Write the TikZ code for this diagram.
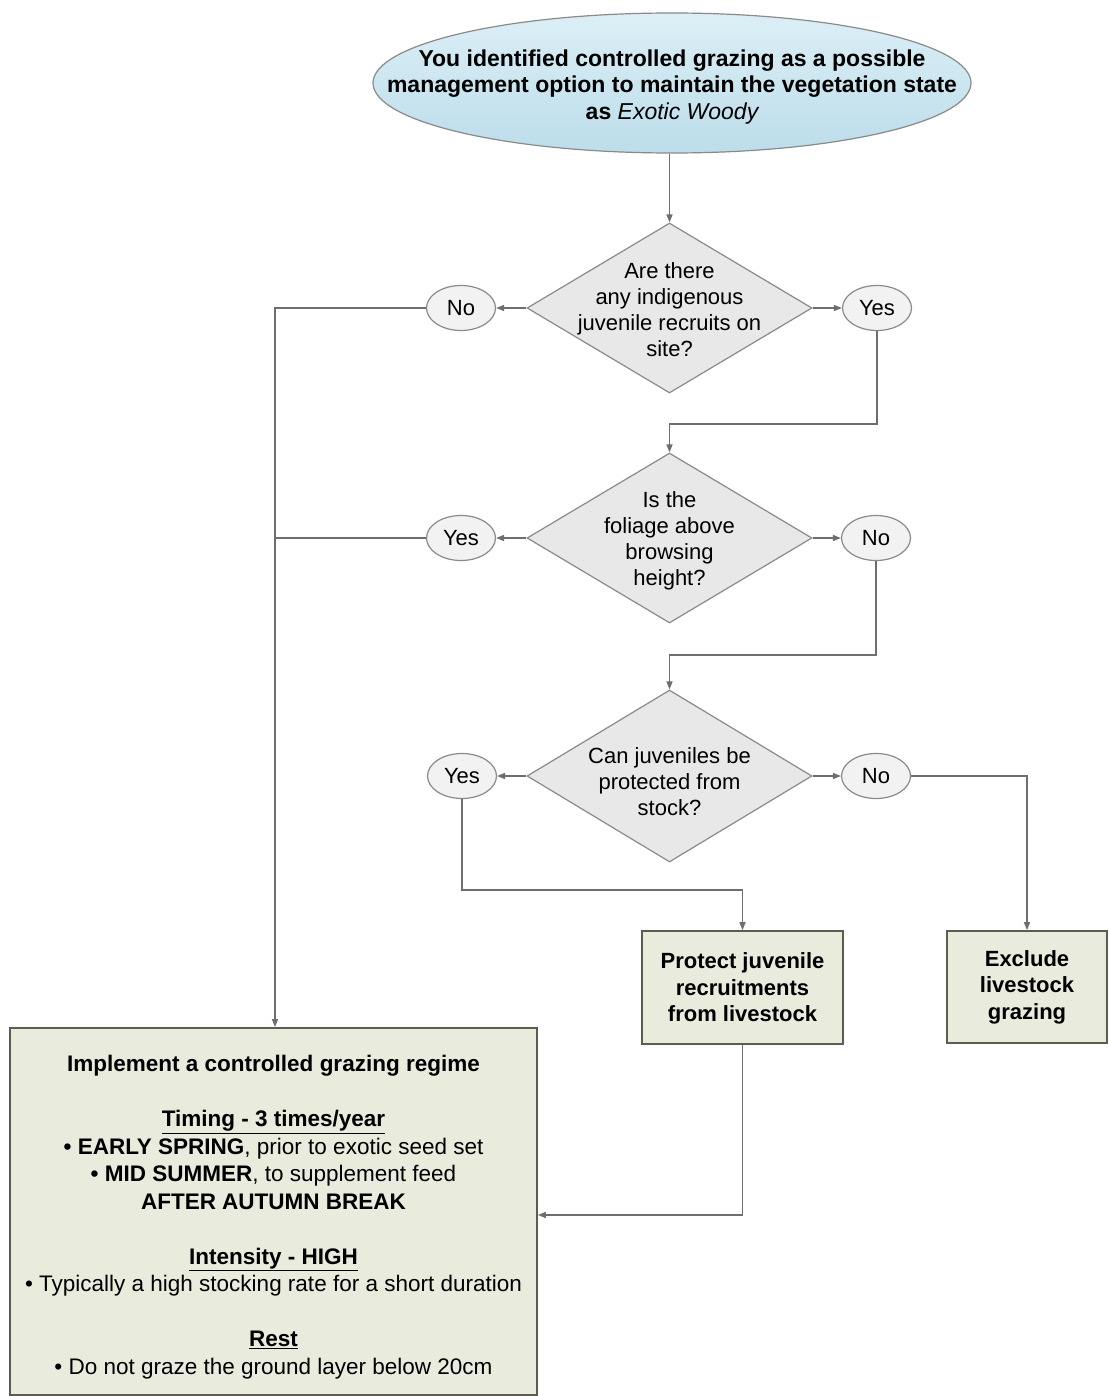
\documentclass[tikz,border=0pt]{standalone}
\usepackage{fontspec}
\setmainfont{Liberation Sans}
\usetikzlibrary{shapes.geometric,arrows.meta}
\definecolor{lineg}{HTML}{6E6E6E}
\definecolor{bordg}{HTML}{8A8A8A}
\definecolor{diafill}{HTML}{E8E8E8}
\definecolor{ovfill}{HTML}{F2F2F2}
\definecolor{boxfill}{HTML}{E9EBDC}
\definecolor{boxborder}{HTML}{5C5C50}
\definecolor{bluetop}{HTML}{DCEFF6}
\definecolor{bluebot}{HTML}{BCDDEA}
\begin{document}
\begin{tikzpicture}[x=1pt,y=-1pt,
 conn/.style={draw=lineg, line width=1.4pt, -{Triangle[length=8pt,width=6pt]}},
 plain/.style={draw=lineg, line width=1.4pt},
 dia/.style={diamond, draw=bordg, fill=diafill, line width=1.2pt, minimum width=285pt, minimum height=170pt, inner sep=0pt, aspect=1.676},
 yn/.style={ellipse, draw=bordg, fill=ovfill, line width=1.2pt, minimum width=69pt, minimum height=45pt, inner sep=0pt, font=\fontsize{22}{26}\selectfont},
 qtext/.style={align=center, font=\fontsize{22}{26}\selectfont, inner sep=0pt},
 act/.style={rectangle, draw=boxborder, fill=boxfill, line width=1.6pt, font=\bfseries\fontsize{22}{26.5}\selectfont, align=center, inner sep=0pt}
]
\useasboundingbox (0,0) rectangle (1108,1396);
\fill[white] (0,0) rectangle (1108,1396);

% start ellipse
\node[ellipse, draw=bordg, line width=1.2pt, top color=bluetop, bottom color=bluebot, minimum width=598pt, minimum height=140pt, inner sep=0pt] (top) at (672,83) {};
\node[align=center, inner sep=0pt, font=\bfseries\fontsize{23}{26.5}\selectfont] (toptext) at (672,87) {You identified controlled grazing as a possible\\management option to maintain the vegetation state\\as {\mdseries\itshape Exotic Woody}};

% decisions
\node[dia] (d1) at (669.5,308) {};
\node[qtext] (d1t) at (669.5,310) {Are there\\any indigenous\\juvenile recruits on\\site?};
\node[dia] (d2) at (669.5,538) {};
\node[qtext] (d2t) at (669.5,541) {Is the\\foliage above\\browsing\\height?};
\node[dia, minimum height=172pt] (d3) at (669.5,776) {};
\node[qtext] (d3t) at (669.5,782) {Can juveniles be\\protected from\\stock?};

% answers
\node[yn] (no1) at (461,308) {No};
\node[yn] (yes1) at (877,308) {Yes};
\node[yn] (yes2) at (461,538) {Yes};
\node[yn] (no2) at (876,538) {No};
\node[yn] (yes3) at (462,776) {Yes};
\node[yn] (no3) at (876,776) {No};

% actions
\node[act, minimum width=201pt, minimum height=113pt] (prot) at (742.5,987.5) {Protect juvenile\\recruitments\\from livestock};
\node[act, minimum width=160pt, minimum height=112pt] (excl) at (1027,987) {Exclude\\livestock\\grazing};
\node[rectangle, draw=boxborder, fill=boxfill, line width=1.8pt, minimum width=527pt, minimum height=367pt, inner sep=0pt] (big) at (273.5,1211.5) {};
\node[inner sep=0pt, align=center, font=\fontsize{22.5}{27.5}\selectfont] (bigtext) at (273.5,1217) {\textbf{Implement a controlled grazing regime}\\[27.5pt]
\textbf{\underline{Timing - 3 times/year}}\\
\textbf{• EARLY SPRING}, prior to exotic seed set\\
\textbf{• MID SUMMER}, to supplement feed\\
\textbf{AFTER AUTUMN BREAK}\\[27.5pt]
\textbf{\underline{Intensity - HIGH}}\\
• Typically a high stocking rate for a short duration\\[27.5pt]
\textbf{\underline{Rest}}\\
• Do not graze the ground layer below 20cm};

% junction coordinates
\coordinate (lx) at (275,308);
\coordinate (j1) at (0,424);
\coordinate (j2) at (0,655);
\coordinate (j3) at (0,890);
\coordinate (j4) at (0,1215);

% connectors
\draw[conn] (top.south -| d1.north) -- (d1.north);
\draw[conn] (d1.west) -- (no1.east);
\draw[conn] (d1.east) -- (yes1.west);
\draw[conn] (no1.west) -- (lx) -- (lx |- big.north);
\draw[plain] (yes2.west) -- (yes2.west -| lx);
\draw[conn] (yes1.south) -- (yes1.south |- j1) -- (d2.north |- j1) -- (d2.north);
\draw[conn] (d2.west) -- (yes2.east);
\draw[conn] (d2.east) -- (no2.west);
\draw[conn] (no2.south) -- (no2.south |- j2) -- (d3.north |- j2) -- (d3.north);
\draw[conn] (d3.west) -- (yes3.east);
\draw[conn] (d3.east) -- (no3.west);
\draw[conn] (yes3.south) -- (yes3.south |- j3) -- (prot.north |- j3) -- (prot.north);
\draw[conn] (no3.east) -- (excl.north |- no3.east) -- (excl.north);
\draw[conn] (prot.south) -- (prot.south |- j4) -- (big.east |- j4);
\end{tikzpicture}
\end{document}
